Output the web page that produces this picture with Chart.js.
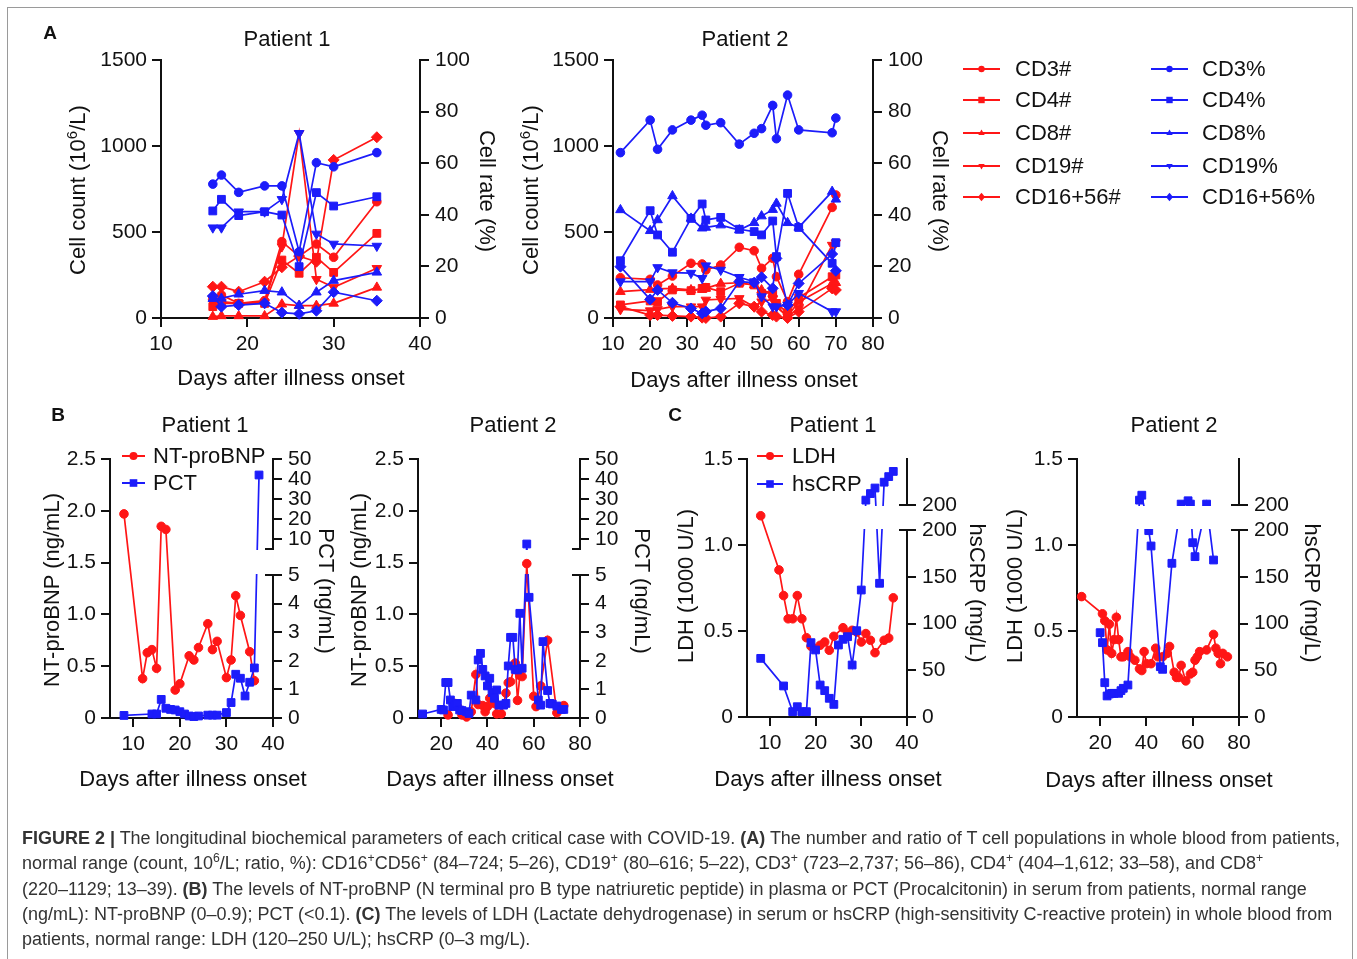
<!DOCTYPE html>
<html>
<head>
<meta charset="utf-8">
<script src="https://cdn.jsdelivr.net/npm/chart.js@4.4.0/dist/chart.umd.min.js"></script>
<style>
  body { margin: 0; background: #fff; font-family: "Liberation Sans", Arial, sans-serif; color: #111; }
  #fig { position: relative; width: 1357px; height: 959px; overflow: hidden; background: #fff; }
  #frame { position: absolute; left: 7px; top: 7px; width: 1344px; height: 1000px; border: 1.5px solid #9a9a9a; }
  canvas { position: absolute; }
  .t { position: absolute; white-space: nowrap; font-size: 22px; line-height: 1; transform: translate(-50%, -50%); }
  .vl { transform: translate(-50%, -50%) rotate(-90deg); }
  .vr { transform: translate(-50%, -50%) rotate(90deg); }
  .lg { position: absolute; white-space: nowrap; font-size: 22px; line-height: 1; transform: translate(0, -50%); }
  .let { position: absolute; font-size: 19px; font-weight: bold; transform: translate(-50%, -50%); }
  sup { font-size: 0.68em; line-height: 0; vertical-align: 0.55em; }
  #cap { position: absolute; left: 22px; top: 826px; font-family: "Liberation Sans Narrow", "Liberation Sans", sans-serif;
         font-size: 18px; line-height: 25.3px; color: #333; white-space: nowrap; transform-origin: 0 0; }
  #lgsvg { position: absolute; left: 0; top: 0; }
</style>
</head>
<body>
<div id="fig">
  <div id="frame"></div>
  <canvas id="a1"></canvas>
  <canvas id="a2"></canvas>
  <canvas id="b1"></canvas>
  <canvas id="b2"></canvas>
  <canvas id="c1"></canvas>
  <canvas id="c2"></canvas>
  <svg id="lgsvg" width="1357" height="959"></svg>
  <div id="labels"></div>
  <div id="cap">
    <b>FIGURE 2 |</b> The longitudinal biochemical parameters of each critical case with COVID-19. <b>(A)</b> The number and ratio of T cell populations in whole blood from patients,<br>
    normal range (count, 10<sup>6</sup>/L; ratio, %): CD16<sup>+</sup>CD56<sup>+</sup> (84–724; 5–26), CD19<sup>+</sup> (80–616; 5–22), CD3<sup>+</sup> (723–2,737; 56–86), CD4<sup>+</sup> (404–1,612; 33–58), and CD8<sup>+</sup><br>
    (220–1129; 13–39). <b>(B)</b> The levels of NT-proBNP (N terminal pro B type natriuretic peptide) in plasma or PCT (Procalcitonin) in serum from patients, normal range<br>
    (ng/mL): NT-proBNP (0–0.9); PCT (&lt;0.1). <b>(C)</b> The levels of LDH (Lactate dehydrogenase) in serum or hsCRP (high-sensitivity C-reactive protein) in whole blood from<br>
    patients, normal range: LDH (120–250 U/L); hsCRP (0–3 mg/L).
  </div>
</div>
<script>
// ---- A: T cell populations ----
const aDays1 = [16, 17, 19, 22, 24, 26, 28, 30, 35];
const a1CD3n = [120, 134, 85, 101, 444, 360, 430, 353, 676];
const a1CD4n = [66, 85, 85, 85, 337, 260, 353, 265, 492];
const a1CD8n = [8, 12, 12, 12, 80, 72, 72, 85, 178];
const a1CD19n = [90, 95, 85, 90, 415, 1074, 225, 178, 289];
const a1CD16n = [182, 182, 153, 211, 295, 360, 327, 919, 1051];
const a1CD3p = [51.9, 55.4, 48.7, 51.2, 51.2, 25.7, 60.2, 58.6, 64.1];
const a1CD4p = [41.5, 46.0, 39.7, 41.2, 39.9, 19.9, 48.6, 43.4, 47.0];
const a1CD8p = [7.5, 7.6, 9.2, 10.6, 10.0, 4.8, 10.0, 14.5, 17.7];
const a1CD19p = [35.0, 35.0, 41.2, 41.2, 46.0, 71.6, 32.6, 28.7, 27.9];
const a1CD16p = [8.5, 4.4, 5.0, 5.7, 2.1, 1.6, 2.8, 10.0, 6.7];

const aDays2 = [12, 20, 22, 26, 31, 34, 35, 39, 44, 48, 50, 53, 54, 57, 60, 69, 70];
const a2CD3n = [234, 225, 192, 244, 318, 314, 279, 308, 411, 391, 289, 347, 240, 95, 254, 643, 715];
const a2CD4n = [76, 99, 95, 163, 159, 172, 178, 153, 202, 192, 143, 147, 85, 31, 118, 240, 250];
const a2CD8n = [153, 165, 170, 172, 163, 165, 172, 200, 205, 192, 163, 143, 66, 12, 93, 200, 205];
const a2CD19n = [50, 43, 50, 66, 66, 66, 105, 109, 114, 66, 95, 109, 66, 8, 56, 424, 438];
const a2CD16n = [66, 17, 17, 12, 8, 2, 0, 8, 85, 66, 37, 17, 8, 0, 37, 172, 163];
const a2CD3p = [64.1, 76.7, 65.4, 72.9, 76.7, 78.6, 74.7, 75.7, 67.4, 71.6, 73.4, 82.4, 69.5, 86.4, 72.9, 71.8, 77.5];
const a2CD4p = [22.2, 41.6, 32.2, 25.5, 38.6, 44.2, 38.0, 39.0, 34.4, 33.5, 32.2, 37.6, 23.8, 48.3, 35.1, 21.2, 29.2];
const a2CD8p = [41.9, 33.8, 38.0, 47.3, 38.6, 34.8, 35.1, 36.0, 34.1, 36.9, 39.5, 42.0, 44.4, 36.9, 35.1, 49.0, 46.0];
const a2CD19p = [14.1, 14.1, 19.6, 17.6, 17.4, 15.4, 20.3, 18.6, 15.8, 14.1, 8.3, 4.4, 4.4, 5.0, 9.6, 2.5, 2.5];
const a2CD16p = [19.9, 7.2, 10.9, 5.9, 3.7, 1.8, 2.5, 3.7, 14.1, 13.7, 15.8, 11.5, 23.1, 5.0, 13.4, 24.8, 18.3];

// ---- B: NT-proBNP / PCT ----
const ntDays1 = [8, 12, 13, 14, 15, 16, 17, 19, 20, 22, 23, 24, 26, 27, 28, 30, 31, 32, 33, 35, 36];
const ntVals1 = [1.97, 0.38, 0.63, 0.66, 0.48, 1.85, 1.82, 0.27, 0.33, 0.60, 0.56, 0.68, 0.91, 0.66, 0.74, 0.39, 0.56, 1.18, 0.99, 0.64, 0.36];
const pctDays1 = [8, 14, 15, 16, 17, 18, 19, 20, 21, 22, 23, 24, 26, 27, 28, 30, 31, 32, 33, 34, 35, 36, 37];
const pctVals1 = [0.09, 0.14, 0.14, 0.65, 0.34, 0.30, 0.28, 0.22, 0.14, 0.07, 0.05, 0.07, 0.10, 0.10, 0.10, 0.19, 0.54, 1.53, 1.39, 0.77, 1.25, 1.75, 42];

const ntDays2 = [23, 26, 27, 29, 31, 33, 35, 36, 38, 39, 40, 41, 43, 44, 46, 48, 49, 50, 52, 53, 54, 55, 57, 60, 61, 63, 66, 70, 73];
const ntVals2 = [0.03, 0.14, 0.11, 0.03, 0.01, 0.06, 0.42, 0.13, 0.12, 0.06, 0.11, 0.19, 0.14, 0.04, 0.04, 0.24, 0.34, 0.35, 0.53, 0.17, 0.41, 0.40, 1.49, 0.21, 0.11, 0.31, 0.75, 0.05, 0.12];
const pctDays2 = [12, 20, 21, 22, 23, 24, 25, 26, 27, 28, 29, 31, 32, 33, 35, 36, 37, 38, 39, 40, 41, 42, 43, 44, 45,
                  47, 48, 49, 50, 51, 52, 53, 54, 55, 57, 58, 62, 63, 64, 66, 67, 68, 70, 72, 73];
const pctVals2 = [0.14, 0.30, 0.28, 1.24, 1.24, 0.63, 0.40, 0.45, 0.51, 0.28, 0.26, 0.22, 0.16, 0.80, 0.63, 2.03, 2.26, 1.70, 1.47, 1.12, 1.39, 0.89, 0.69, 0.98, 0.45,
                  0.45, 0.51, 1.82, 2.82, 2.82, 1.70, 1.68, 3.66, 1.74, 7.5, 4.22, 0.63, 0.45, 2.67, 0.96, 0.51, 0.49, 0.42, 0.30, 0.30];

// ---- C: LDH / hsCRP ----
const ldhDays1 = [8, 12, 13, 14, 15, 16, 17, 18, 19, 20, 21, 22, 23, 24, 26, 27, 28, 29, 30, 31, 32, 33, 35, 36, 37];
const ldhVals1 = [1.17, 0.855, 0.706, 0.571, 0.571, 0.706, 0.571, 0.461, 0.411, 0.398, 0.417, 0.436, 0.388, 0.469, 0.519, 0.488, 0.504, 0.494, 0.436, 0.485, 0.446, 0.374, 0.446, 0.459, 0.693];
const crpDays1 = [8, 13, 15, 16, 17, 18, 19, 20, 21, 22, 23, 24, 25, 26, 27, 28, 29, 30, 31, 32, 33, 34, 35, 36, 37];
const crpVals1 = [62.7, 33.2, 5.7, 11.0, 5.7, 5.7, 79.5, 71.7, 34.2, 28.2, 20.0, 13.5, 77.0, 83.1, 85.9, 55.6, 92.3, 135.8, 210.6, 224.8, 236.9, 143.0, 249.6, 261.7, 273.0];

const ldhDays2 = [12, 21, 22, 23, 24, 25, 26, 27, 28, 29, 30, 32, 33, 35, 37, 38, 39, 40, 42, 44, 45, 47, 49, 50, 52, 53, 54, 55, 57, 59, 60, 61, 62, 63, 66, 69, 70, 71, 72, 73, 75];
const ldhVals2 = [0.70, 0.60, 0.56, 0.39, 0.54, 0.37, 0.45, 0.58, 0.45, 0.35, 0.35, 0.38, 0.35, 0.33, 0.28, 0.27, 0.38, 0.31, 0.31, 0.40, 0.35, 0.35, 0.37, 0.41, 0.26, 0.23, 0.23, 0.30, 0.21, 0.25, 0.26, 0.33, 0.35, 0.38, 0.39, 0.48, 0.40, 0.37, 0.31, 0.37, 0.35];
const crpDays2 = [20, 21, 22, 23, 24, 25, 26, 28, 29, 30, 32, 37, 38, 41, 42, 46, 47, 51, 55, 58, 59, 60, 61, 66, 69];
const crpVals2 = [90.2, 79.5, 36.7, 22.5, 24.6, 25.3, 25.3, 25.3, 28.2, 30.7, 34.2, 210.6, 221.3, 199.3, 182.9, 53.8, 51.0, 164.4, 202, 209.2, 202, 186.4, 171.5, 202, 167.9];

// ---- axis ticks ----
const tickCount = [0, 500, 1000, 1500];
const tickRate = [0, 20, 40, 60, 80, 100];
const tickNt = [0, 0.5, 1.0, 1.5, 2.0, 2.5];
const tickLdh = [0, 0.5, 1.0, 1.5];
const tickPct = [0, 1, 2, 3, 4, 5, 10, 20, 30, 40, 50];
const tickCrp = [0, 50, 100, 150, 200, 200.001];

const INK = '#111';
const RED = 'rgb(255,22,22)';
const BLUE = 'rgb(28,28,250)';
const FONT = '"Liberation Sans", Arial, sans-serif';
Chart.defaults.font.family = FONT;
Chart.defaults.color = INK;

// linear scale with one break: a lower and an upper segment
class BrokenScale extends Chart.LinearScale {
  getPixelForValue(v) {
    const b = this.options.brk;
    if (v <= b.lowMax) return this.bottom - (v - b.lowMin) / (b.lowMax - b.lowMin) * b.lowPx;
    const hb = this.bottom - b.lowPx - b.gapPx;
    return hb - (v - b.highMin) / (b.highMax - b.highMin) * (hb - this.top);
  }
  getValueForPixel(p) {
    const b = this.options.brk;
    const lt = this.bottom - b.lowPx;
    if (p >= lt) return b.lowMin + (this.bottom - p) / b.lowPx * (b.lowMax - b.lowMin);
    const hb = lt - b.gapPx;
    return b.highMin + (hb - p) / (hb - this.top) * (b.highMax - b.highMin);
  }
}
BrokenScale.id = 'broken';
BrokenScale.defaults = Chart.LinearScale.defaults;
Chart.register(BrokenScale);

// draws the two pieces of a broken right axis
const brokenAxis = {
  id: 'brokenAxis',
  afterDraw(chart) {
    const s = chart.scales.y1;
    if (!s || s.type !== 'broken') return;
    const b = s.options.brk;
    const x = chart.chartArea.right;
    const yLow = s.getPixelForValue(b.lowMax);
    const yHigh = s.bottom - b.lowPx - b.gapPx;
    const ctx = chart.ctx;
    ctx.save();
    ctx.strokeStyle = INK;
    ctx.lineWidth = 2;
    ctx.beginPath();
    ctx.moveTo(x, s.bottom + 1); ctx.lineTo(x, yLow);
    ctx.moveTo(x - 8, yLow); ctx.lineTo(x, yLow);
    ctx.moveTo(x, yHigh); ctx.lineTo(x, s.top - 1);
    ctx.moveTo(x - 8, yHigh); ctx.lineTo(x + 1, yHigh);
    ctx.stroke();
    ctx.restore();
  }
};

const SHAPES = {
  circle: { pointStyle: 'circle', pointRotation: 0, pointRadius: 4.3 },
  square: { pointStyle: 'rect', pointRotation: 0, pointRadius: 5.5 },
  up: { pointStyle: 'triangle', pointRotation: 0, pointRadius: 5.5 },
  down: { pointStyle: 'triangle', pointRotation: 180, pointRadius: 5.5 },
  diamond: { pointStyle: 'rectRot', pointRotation: 0, pointRadius: 5.5 }
};

function series(days, vals, color, shape, axis, extra) {
  return Object.assign({
    data: days.map((d, i) => ({ x: d, y: vals[i] })),
    yAxisID: axis,
    borderColor: color,
    backgroundColor: color,
    pointBackgroundColor: color,
    pointBorderColor: color,
    borderWidth: 1.7,
    pointBorderWidth: 1,
    tension: 0,
    clip: 10
  }, SHAPES[shape], extra || {});
}

// same series twice, each copy clipped to one segment of the broken axis
function brokenSeries(days, vals, color, shape, H, brk) {
  return [
    series(days, vals, color, shape, 'y1', { clip: { left: 10, right: 10, bottom: 10, top: -(H - brk.lowPx) + 1 } }),
    series(days, vals, color, shape, 'y1', { clip: { left: 10, right: 10, top: 10, bottom: -(brk.lowPx + brk.gapPx) + 1 } })
  ];
}

const ML = 80, MR = 80, MT = 20, MB = 50;

function axis(pos, r) {
  const o = {
    type: r.brk ? 'broken' : 'linear',
    position: pos,
    min: r.min,
    max: r.max,
    afterBuildTicks: s => { s.ticks = r.ticks.map(v => ({ value: v })); },
    afterFit: s => { if (pos === 'bottom') s.height = MB; else s.width = pos === 'left' ? ML : MR; },
    border: { display: !r.brk, color: INK, width: 2 },
    grid: { drawOnChartArea: false, drawTicks: true, tickLength: 9, color: INK, lineWidth: 2 },
    ticks: {
      color: INK, font: { size: 21 }, autoSkip: false, maxRotation: 0,
      padding: pos === 'right' ? 6 : (pos === 'left' ? 5 : 5),
      callback: r.fmt || (v => String(v))
    }
  };
  if (r.brk) o.brk = r.brk;
  return o;
}

function build(id, area, xr, yl, yr, datasets) {
  const c = document.getElementById(id);
  c.width = area[2] - area[0] + ML + MR;
  c.height = area[3] - area[1] + MT + MB;
  c.style.left = (area[0] - ML) + 'px';
  c.style.top = (area[1] - MT) + 'px';
  return new Chart(c, {
    type: 'line',
    data: { datasets },
    options: {
      responsive: false,
      animation: false,
      events: [],
      layout: { padding: { top: MT, left: 0, right: 0, bottom: 0 } },
      plugins: { legend: { display: false }, tooltip: { enabled: false } },
      scales: { x: axis('bottom', xr), y: axis('left', yl), y1: axis('right', yr) }
    },
    plugins: [brokenAxis]
  });
}

const fmt1 = v => (v === 0 ? '0' : v.toFixed(1));
const fmt0 = v => String(Math.round(v));

function aSets(days, n3, n4, n8, n19, n16, p3, p4, p8, p19, p16) {
  return [
    series(days, p3, BLUE, 'circle', 'y1'),
    series(days, p4, BLUE, 'square', 'y1'),
    series(days, p8, BLUE, 'up', 'y1'),
    series(days, p19, BLUE, 'down', 'y1'),
    series(days, p16, BLUE, 'diamond', 'y1'),
    series(days, n3, RED, 'circle', 'y'),
    series(days, n4, RED, 'square', 'y'),
    series(days, n8, RED, 'up', 'y'),
    series(days, n19, RED, 'down', 'y'),
    series(days, n16, RED, 'diamond', 'y')
  ];
}

build('a1', [161, 60, 420, 318],
  { min: 10, max: 40, ticks: [10, 20, 30, 40] },
  { min: 0, max: 1500, ticks: tickCount },
  { min: 0, max: 100, ticks: tickRate },
  aSets(aDays1, a1CD3n, a1CD4n, a1CD8n, a1CD19n, a1CD16n, a1CD3p, a1CD4p, a1CD8p, a1CD19p, a1CD16p));

build('a2', [613, 60, 873, 318],
  { min: 10, max: 80, ticks: [10, 20, 30, 40, 50, 60, 70, 80] },
  { min: 0, max: 1500, ticks: tickCount },
  { min: 0, max: 100, ticks: tickRate },
  aSets(aDays2, a2CD3n, a2CD4n, a2CD8n, a2CD19n, a2CD16n, a2CD3p, a2CD4p, a2CD8p, a2CD19p, a2CD16p));

const brkPct = { lowMin: 0, lowMax: 5, highMin: 5, highMax: 50, lowPx: 143, gapPx: 26 };
const brkCrp = { lowMin: 0, lowMax: 200, highMin: 200, highMax: 300, lowPx: 187, gapPx: 25 };

build('b1', [110, 459, 273, 718],
  { min: 5, max: 40, ticks: [10, 20, 30, 40] },
  { min: 0, max: 2.5, ticks: tickNt, fmt: fmt1 },
  { min: 0, max: 50, ticks: tickPct, fmt: fmt0, brk: brkPct },
  [...brokenSeries(pctDays1, pctVals1, BLUE, 'square', 259, brkPct),
   series(ntDays1, ntVals1, RED, 'circle', 'y')]);

build('b2', [418, 459, 580, 718],
  { min: 10, max: 80, ticks: [20, 40, 60, 80] },
  { min: 0, max: 2.5, ticks: tickNt, fmt: fmt1 },
  { min: 0, max: 50, ticks: tickPct, fmt: fmt0, brk: brkPct },
  [...brokenSeries(pctDays2, pctVals2, BLUE, 'square', 259, brkPct),
   series(ntDays2, ntVals2, RED, 'circle', 'y')]);

build('c1', [747, 459, 907, 717],
  { min: 5, max: 40, ticks: [10, 20, 30, 40] },
  { min: 0, max: 1.5, ticks: tickLdh, fmt: fmt1 },
  { min: 0, max: 300, ticks: tickCrp, fmt: fmt0, brk: brkCrp },
  [...brokenSeries(crpDays1, crpVals1, BLUE, 'square', 258, brkCrp),
   series(ldhDays1, ldhVals1, RED, 'circle', 'y')]);

build('c2', [1077, 459, 1239, 717],
  { min: 10, max: 80, ticks: [20, 40, 60, 80] },
  { min: 0, max: 1.5, ticks: tickLdh, fmt: fmt1 },
  { min: 0, max: 300, ticks: tickCrp, fmt: fmt0, brk: brkCrp },
  [...brokenSeries(crpDays2, crpVals2, BLUE, 'square', 258, brkCrp),
   series(ldhDays2, ldhVals2, RED, 'circle', 'y')]);

// ---- text ----
const texts = [
  ['Patient 1', 287, 39, 't'], ['Patient 2', 745, 39, 't'],
  ['Patient 1', 205, 425, 't'], ['Patient 2', 513, 425, 't'],
  ['Patient 1', 833, 425, 't'], ['Patient 2', 1174, 425, 't'],
  ['Days after illness onset', 291, 378, 't'], ['Days after illness onset', 744, 380, 't'],
  ['Days after illness onset', 193, 779, 't'], ['Days after illness onset', 500, 779, 't'],
  ['Days after illness onset', 828, 779, 't'], ['Days after illness onset', 1159, 780, 't'],
  ['Cell count (10<sup>6</sup>/L)', 78, 190, 't vl'], ['Cell count (10<sup>6</sup>/L)', 531, 190, 't vl'],
  ['Cell rate (%)', 487, 191, 't vr'], ['Cell rate (%)', 940, 191, 't vr'],
  ['NT-proBNP (ng/mL)', 52, 590, 't vl'], ['NT-proBNP (ng/mL)', 359, 590, 't vl'],
  ['PCT (ng/mL)', 326, 591, 't vr'], ['PCT (ng/mL)', 642, 591, 't vr'],
  ['LDH (1000 U/L)', 686, 586, 't vl'], ['LDH (1000 U/L)', 1015, 586, 't vl'],
  ['hsCRP (mg/L)', 977, 593, 't vr'], ['hsCRP (mg/L)', 1312, 593, 't vr'],
  ['A', 50, 33, 'let'], ['B', 58, 415, 'let'], ['C', 675, 415, 'let']
];
const lab = document.getElementById('labels');
texts.forEach(([s, x, y, cls]) => {
  const d = document.createElement('div');
  d.className = cls;
  d.innerHTML = s;
  d.style.left = x + 'px';
  d.style.top = y + 'px';
  lab.appendChild(d);
});

// ---- legends ----
const svg = document.getElementById('lgsvg');
const NS = 'http://www.w3.org/2000/svg';
function el(tag, attrs) {
  const e = document.createElementNS(NS, tag);
  for (const k in attrs) e.setAttribute(k, attrs[k]);
  svg.appendChild(e);
}
function marker(shape, cx, cy, r, color) {
  if (shape === 'circle') el('circle', { cx, cy, r, fill: color });
  else if (shape === 'square') el('rect', { x: cx - r, y: cy - r, width: 2 * r, height: 2 * r, fill: color });
  else if (shape === 'up') el('polygon', { points: `${cx},${cy - r * 1.1} ${cx + r},${cy + r * 0.6} ${cx - r},${cy + r * 0.6}`, fill: color });
  else if (shape === 'down') el('polygon', { points: `${cx},${cy + r * 1.1} ${cx + r},${cy - r * 0.6} ${cx - r},${cy - r * 0.6}`, fill: color });
  else el('polygon', { points: `${cx},${cy - r * 1.3} ${cx + r * 1.1},${cy} ${cx},${cy + r * 1.3} ${cx - r * 1.1},${cy}`, fill: color });
}
function legendItem(x0, x1, y, color, shape, r, text, tx) {
  el('line', { x1: x0, y1: y, x2: x1, y2: y, stroke: color, 'stroke-width': 2 });
  marker(shape, (x0 + x1) / 2, y, r, color);
  const d = document.createElement('div');
  d.className = 'lg';
  d.textContent = text;
  d.style.left = tx + 'px';
  d.style.top = y + 'px';
  lab.appendChild(d);
}
const aShapes = ['circle', 'square', 'up', 'down', 'diamond'];
const aNames = ['CD3', 'CD4', 'CD8', 'CD19', 'CD16+56'];
const aRows = [69, 100, 133, 166, 197];
aShapes.forEach((sh, i) => {
  legendItem(963, 1000, aRows[i], RED, sh, 3.2, aNames[i] + '#', 1015);
  legendItem(1151, 1188, aRows[i], BLUE, sh, 3.2, aNames[i] + '%', 1202);
});
legendItem(122, 145, 456, RED, 'circle', 4, 'NT-proBNP', 153);
legendItem(122, 145, 483, BLUE, 'square', 3.8, 'PCT', 153);
legendItem(757, 783, 456, RED, 'circle', 4, 'LDH', 792);
legendItem(757, 783, 484, BLUE, 'square', 3.8, 'hsCRP', 792);

// fit caption width to the figure
const cap = document.getElementById('cap');
const probe = document.createElement('span');
probe.style.cssText = 'position:absolute;visibility:hidden;white-space:nowrap;font:inherit;';
probe.innerHTML = cap.innerHTML.split('<br>')[0];
cap.appendChild(probe);
const w = probe.getBoundingClientRect().width;
cap.removeChild(probe);
if (w > 0) cap.style.transform = `scaleX(${(1318 / w).toFixed(4)})`;
</script>
</body>
</html>
